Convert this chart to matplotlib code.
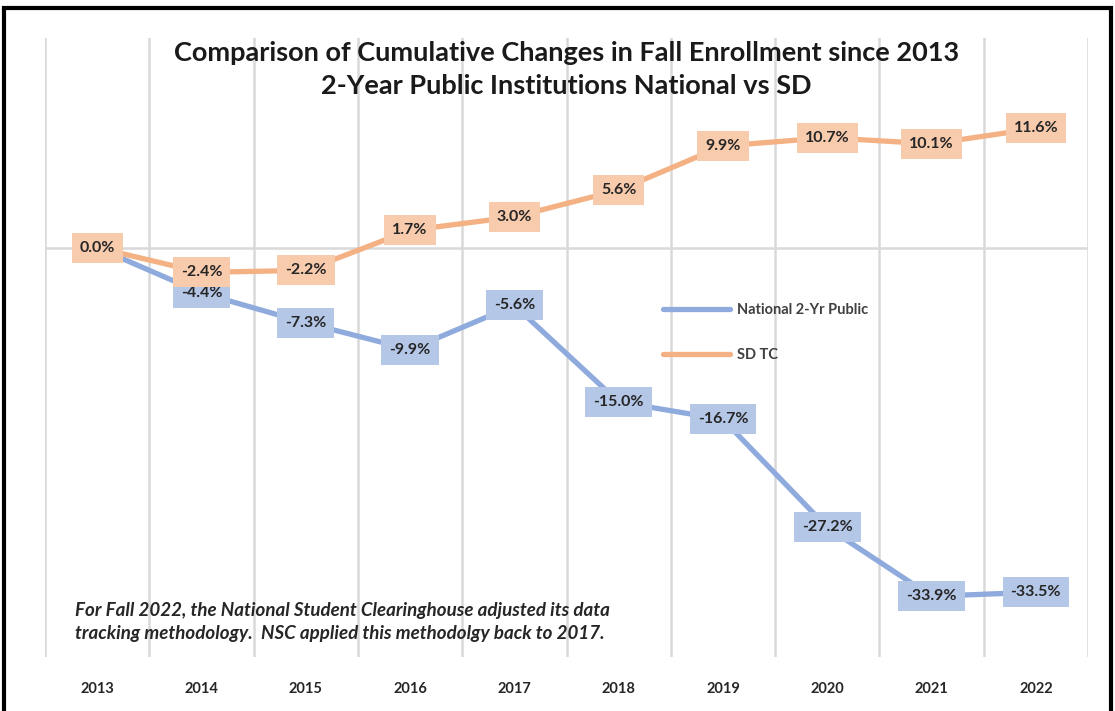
import matplotlib
matplotlib.use("Agg")
import matplotlib.pyplot as plt
from matplotlib.patches import Rectangle

years = ["2013", "2014", "2015", "2016", "2017", "2018", "2019", "2020", "2021", "2022"]
national = [0.0, -4.4, -7.3, -9.9, -5.6, -15.0, -16.7, -27.2, -33.9, -33.5]
sdtc = [0.0, -2.4, -2.2, 1.7, 3.0, 5.6, 9.9, 10.7, 10.1, 11.6]
series_names = ["National 2-Yr Public", "SD TC"]
title = "Comparison of Cumulative Changes in Fall Enrollment since 2013\n2-Year Public Institutions National vs SD"
note = ("For Fall 2022, the National Student Clearinghouse adjusted its data\n"
        "tracking methodology.  NSC applied this methodolgy back to 2017.")

FONT = ["Lato", "DejaVu Sans"]
plt.rcParams["font.family"] = FONT

blue_line = "#8faadc"
blue_box = "#b4c7e7"
orange_line = "#f4b183"
orange_box = "#f8cbad"

fig = plt.figure(figsize=(11.15, 7.11), dpi=100)
ax = fig.add_axes([0.0404, 0.076, 0.9354, 0.8706])

x = list(range(len(years)))
ax.plot(x, national, color=blue_line, lw=3.8, zorder=2, solid_capstyle="round",
        label=series_names[0])
ax.plot(x, sdtc, color=orange_line, lw=3.8, zorder=3, solid_capstyle="round",
        label=series_names[1])

for xi, v in zip(x, national):
    ax.text(xi, v, f"{v:.1f}%", ha="center", va="center", fontsize=11.5,
            fontweight="bold", color="#262626", zorder=4,
            bbox=dict(boxstyle="square,pad=0.5", fc=blue_box, ec="none"))
for xi, v in zip(x, sdtc):
    ax.text(xi, v, f"{v:.1f}%", ha="center", va="center", fontsize=11.5,
            fontweight="bold", color="#262626", zorder=5,
            bbox=dict(boxstyle="square,pad=0.5", fc=orange_box, ec="none"))

ax.set_xlim(-0.5, len(years) - 0.5)
ax.set_ylim(-39.8, 20.4)
ax.set_xticks(x)
ax.set_xticklabels(years, fontsize=10.5, fontweight="bold", color="#262626")
ax.set_yticks([])
for b in [i - 0.5 for i in range(len(years) + 1)]:
    ax.axvline(b, color="#d9d9d9", lw=1.8, zorder=0)
ax.axhline(0, color="#d9d9d9", lw=1.8, zorder=1)
ax.tick_params(axis="x", length=0, pad=18)
for s in ax.spines.values():
    s.set_visible(False)

leg = ax.legend(loc="upper left", bbox_to_anchor=(0.58, 0.593), frameon=False,
                handlelength=4.6, handletextpad=0.5, labelspacing=2.1,
                prop={"family": FONT, "weight": "bold", "size": 10.5})
for t in leg.get_texts():
    t.set_color("#404040")

fig.text(0.508, 0.902, title, ha="center", va="center", fontsize=19.5,
         fontweight="bold", color="#1a1a1a", linespacing=1.42)

fig.text(0.067, 0.125, note, ha="left", va="center", fontsize=13.5,
         style="italic", fontweight="bold", color="#262626", linespacing=1.4)

fig.patches.append(Rectangle((0.004, -0.01), 0.992, 0.999, transform=fig.transFigure,
                             fill=False, ec="black", lw=3, zorder=10))

fig.savefig("out.png", dpi=100)
